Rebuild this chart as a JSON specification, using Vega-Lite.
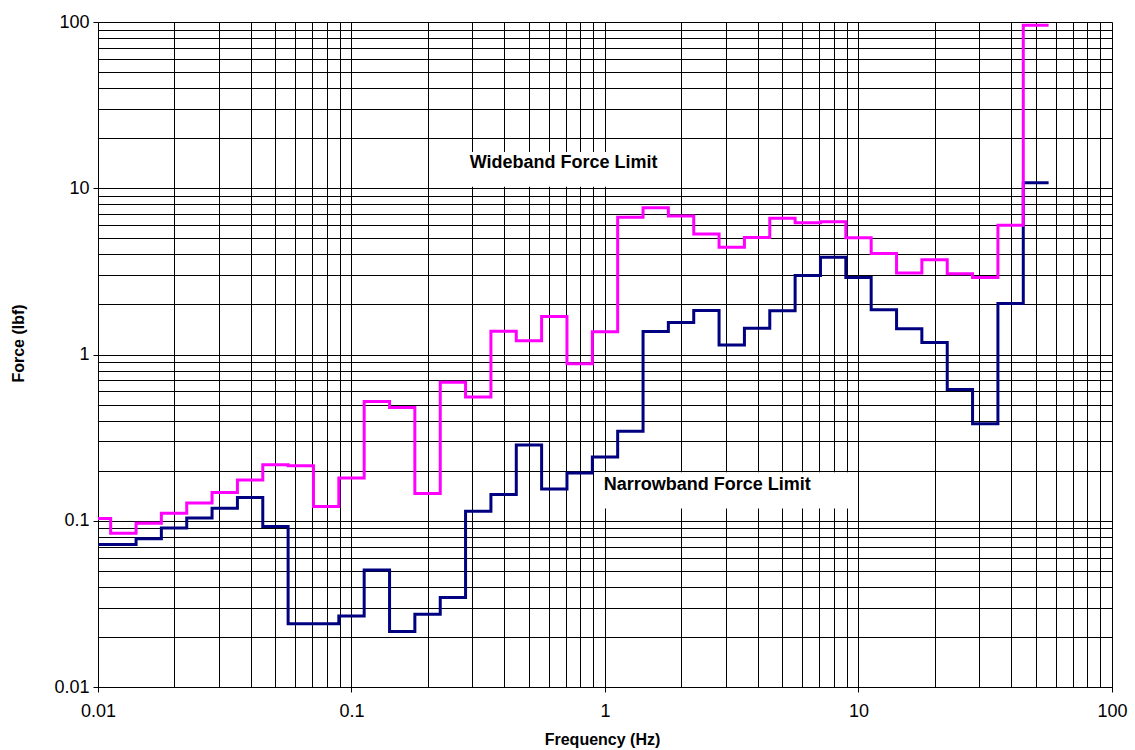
{
  "$schema": "https://vega.github.io/schema/vega-lite/v6.json",
  "width": 1014,
  "height": 665,
  "autosize": "none",
  "padding": {"left": 98, "top": 22, "right": 23, "bottom": 63},
  "background": "white",
  "config": {"view": {"stroke": null}, "font": "Liberation Sans"},
  "datasets": {
    "lines": [
      {"s": "N", "f": 0.01, "v": 0.0719}, {"s": "N", "f": 0.01122, "v": 0.0719}, {"s": "N", "f": 0.01413, "v": 0.078}, {"s": "N", "f": 0.01778, "v": 0.0906}, {"s": "N", "f": 0.02239, "v": 0.104}, {"s": "N", "f": 0.02818, "v": 0.119}, {"s": "N", "f": 0.03548, "v": 0.138}, {"s": "N", "f": 0.04467, "v": 0.0922}, {"s": "N", "f": 0.05623, "v": 0.024}, {"s": "N", "f": 0.07079, "v": 0.024}, {"s": "N", "f": 0.08913, "v": 0.0267}, {"s": "N", "f": 0.1122, "v": 0.0506}, {"s": "N", "f": 0.1413, "v": 0.0216}, {"s": "N", "f": 0.1778, "v": 0.0274}, {"s": "N", "f": 0.2239, "v": 0.0346}, {"s": "N", "f": 0.2818, "v": 0.114}, {"s": "N", "f": 0.3548, "v": 0.144}, {"s": "N", "f": 0.4467, "v": 0.286}, {"s": "N", "f": 0.5623, "v": 0.155}, {"s": "N", "f": 0.7079, "v": 0.194}, {"s": "N", "f": 0.8913, "v": 0.242}, {"s": "N", "f": 1.122, "v": 0.345}, {"s": "N", "f": 1.413, "v": 1.375}, {"s": "N", "f": 1.778, "v": 1.56}, {"s": "N", "f": 2.239, "v": 1.84}, {"s": "N", "f": 2.818, "v": 1.14}, {"s": "N", "f": 3.548, "v": 1.44}, {"s": "N", "f": 4.467, "v": 1.83}, {"s": "N", "f": 5.623, "v": 2.99}, {"s": "N", "f": 7.079, "v": 3.85}, {"s": "N", "f": 8.913, "v": 2.91}, {"s": "N", "f": 11.22, "v": 1.86}, {"s": "N", "f": 14.13, "v": 1.43}, {"s": "N", "f": 17.78, "v": 1.18}, {"s": "N", "f": 22.39, "v": 0.615}, {"s": "N", "f": 28.18, "v": 0.383}, {"s": "N", "f": 35.48, "v": 2.03}, {"s": "N", "f": 44.67, "v": 10.8}, {"s": "N", "f": 56.23, "v": 10.8},
      {"s": "W", "f": 0.01, "v": 0.103}, {"s": "W", "f": 0.01122, "v": 0.084}, {"s": "W", "f": 0.01413, "v": 0.0966}, {"s": "W", "f": 0.01778, "v": 0.111}, {"s": "W", "f": 0.02239, "v": 0.128}, {"s": "W", "f": 0.02818, "v": 0.148}, {"s": "W", "f": 0.03548, "v": 0.176}, {"s": "W", "f": 0.04467, "v": 0.217}, {"s": "W", "f": 0.05623, "v": 0.214}, {"s": "W", "f": 0.07079, "v": 0.122}, {"s": "W", "f": 0.08913, "v": 0.181}, {"s": "W", "f": 0.1122, "v": 0.521}, {"s": "W", "f": 0.1413, "v": 0.48}, {"s": "W", "f": 0.1778, "v": 0.146}, {"s": "W", "f": 0.2239, "v": 0.681}, {"s": "W", "f": 0.2818, "v": 0.556}, {"s": "W", "f": 0.3548, "v": 1.38}, {"s": "W", "f": 0.4467, "v": 1.21}, {"s": "W", "f": 0.5623, "v": 1.69}, {"s": "W", "f": 0.7079, "v": 0.879}, {"s": "W", "f": 0.8913, "v": 1.37}, {"s": "W", "f": 1.122, "v": 6.7}, {"s": "W", "f": 1.413, "v": 7.64}, {"s": "W", "f": 1.778, "v": 6.8}, {"s": "W", "f": 2.239, "v": 5.3}, {"s": "W", "f": 2.818, "v": 4.42}, {"s": "W", "f": 3.548, "v": 5.06}, {"s": "W", "f": 4.467, "v": 6.59}, {"s": "W", "f": 5.623, "v": 6.21}, {"s": "W", "f": 7.079, "v": 6.29}, {"s": "W", "f": 8.913, "v": 5.04}, {"s": "W", "f": 11.22, "v": 4.05}, {"s": "W", "f": 14.13, "v": 3.09}, {"s": "W", "f": 17.78, "v": 3.71}, {"s": "W", "f": 22.39, "v": 3.06}, {"s": "W", "f": 28.18, "v": 2.91}, {"s": "W", "f": 35.48, "v": 6.0}, {"s": "W", "f": 44.67, "v": 95.5}, {"s": "W", "f": 56.23, "v": 95.5}
    ],
    "boxes": [
      {"f": 0.267, "f2": 1.83, "v": 10.2, "v2": 16.5},
      {"f": 0.936, "f2": 9.23, "v": 0.1184, "v2": 0.196}
    ],
    "labels": [
      {"f": 0.2927, "v": 14.2, "label": "Wideband Force Limit"},
      {"f": 0.989, "v": 0.164, "label": "Narrowband Force Limit"}
    ]
  },
  "encoding": {
    "x": {
      "field": "f",
      "type": "quantitative",
      "scale": {"type": "log", "domain": [0.01, 100], "nice": false},
      "axis": {
        "title": "Frequency (Hz)",
        "values": [0.01, 0.02, 0.03, 0.04, 0.05, 0.06, 0.07, 0.08, 0.09, 0.1, 0.2, 0.3, 0.4, 0.5, 0.6, 0.7, 0.8, 0.9, 1, 2, 3, 4, 5, 6, 7, 8, 9, 10, 20, 30, 40, 50, 60, 70, 80, 90, 100],
        "format": "~g",
        "labelExpr": "abs(log(datum.value)/LN10 - round(log(datum.value)/LN10)) < 0.001 ? datum.label : ''",
        "labelOverlap": false,
        "labelFlush": false,
        "labelFontSize": 18,
        "labelColor": "black",
        "labelPadding": 10,
        "tickSize": 5,
        "tickColor": {"condition": {"test": "abs(log(datum.value)/LN10 - round(log(datum.value)/LN10)) < 0.001", "value": "black"}, "value": "transparent"},
        "grid": true,
        "gridColor": "black",
        "gridOpacity": 1,
        "gridWidth": 1,
        "domainColor": "black",
        "titleFontSize": 16,
        "titleFontWeight": "bold",
        "titleColor": "black",
        "titleX": 504,
        "titleY": 52,
        "titleBaseline": "middle"
      }
    },
    "y": {
      "field": "v",
      "type": "quantitative",
      "scale": {"type": "log", "domain": [0.01, 100], "nice": false},
      "axis": {
        "title": "Force (lbf)",
        "values": [0.01, 0.02, 0.03, 0.04, 0.05, 0.06, 0.07, 0.08, 0.09, 0.1, 0.2, 0.3, 0.4, 0.5, 0.6, 0.7, 0.8, 0.9, 1, 2, 3, 4, 5, 6, 7, 8, 9, 10, 20, 30, 40, 50, 60, 70, 80, 90, 100],
        "format": "~g",
        "labelExpr": "abs(log(datum.value)/LN10 - round(log(datum.value)/LN10)) < 0.001 ? datum.label : ''",
        "labelOverlap": false,
        "labelFlush": false,
        "labelFontSize": 18,
        "labelColor": "black",
        "labelPadding": 4,
        "tickSize": 5,
        "tickColor": {"condition": {"test": "abs(log(datum.value)/LN10 - round(log(datum.value)/LN10)) < 0.001", "value": "black"}, "value": "transparent"},
        "grid": true,
        "gridColor": "black",
        "gridOpacity": 1,
        "gridWidth": 1,
        "domainColor": "black",
        "titleFontSize": 16,
        "titleFontWeight": "bold",
        "titleColor": "black",
        "titleX": -80,
        "titleY": 321,
        "titleAngle": 270,
        "titleAlign": "center",
        "titleBaseline": "middle"
      }
    }
  },
  "layer": [
    {
      "data": {"name": "boxes"},
      "mark": {"type": "rect", "fill": "white", "stroke": null},
      "encoding": {"x2": {"field": "f2"}, "y2": {"field": "v2"}}
    },
    {
      "data": {"name": "labels"},
      "mark": {"type": "text", "align": "left", "baseline": "middle", "fontSize": 18, "fontWeight": "bold", "color": "black", "font": "Liberation Sans"},
      "encoding": {"text": {"field": "label"}}
    },
    {
      "data": {"name": "lines"},
      "transform": [{"filter": "datum.s === 'N'"}],
      "mark": {"type": "line", "interpolate": "step-after", "color": "#000080", "strokeWidth": 3},
      "encoding": {}
    },
    {
      "data": {"name": "lines"},
      "transform": [{"filter": "datum.s === 'W'"}],
      "mark": {"type": "line", "interpolate": "step-after", "color": "#FF00FF", "strokeWidth": 3},
      "encoding": {}
    }
  ]
}
